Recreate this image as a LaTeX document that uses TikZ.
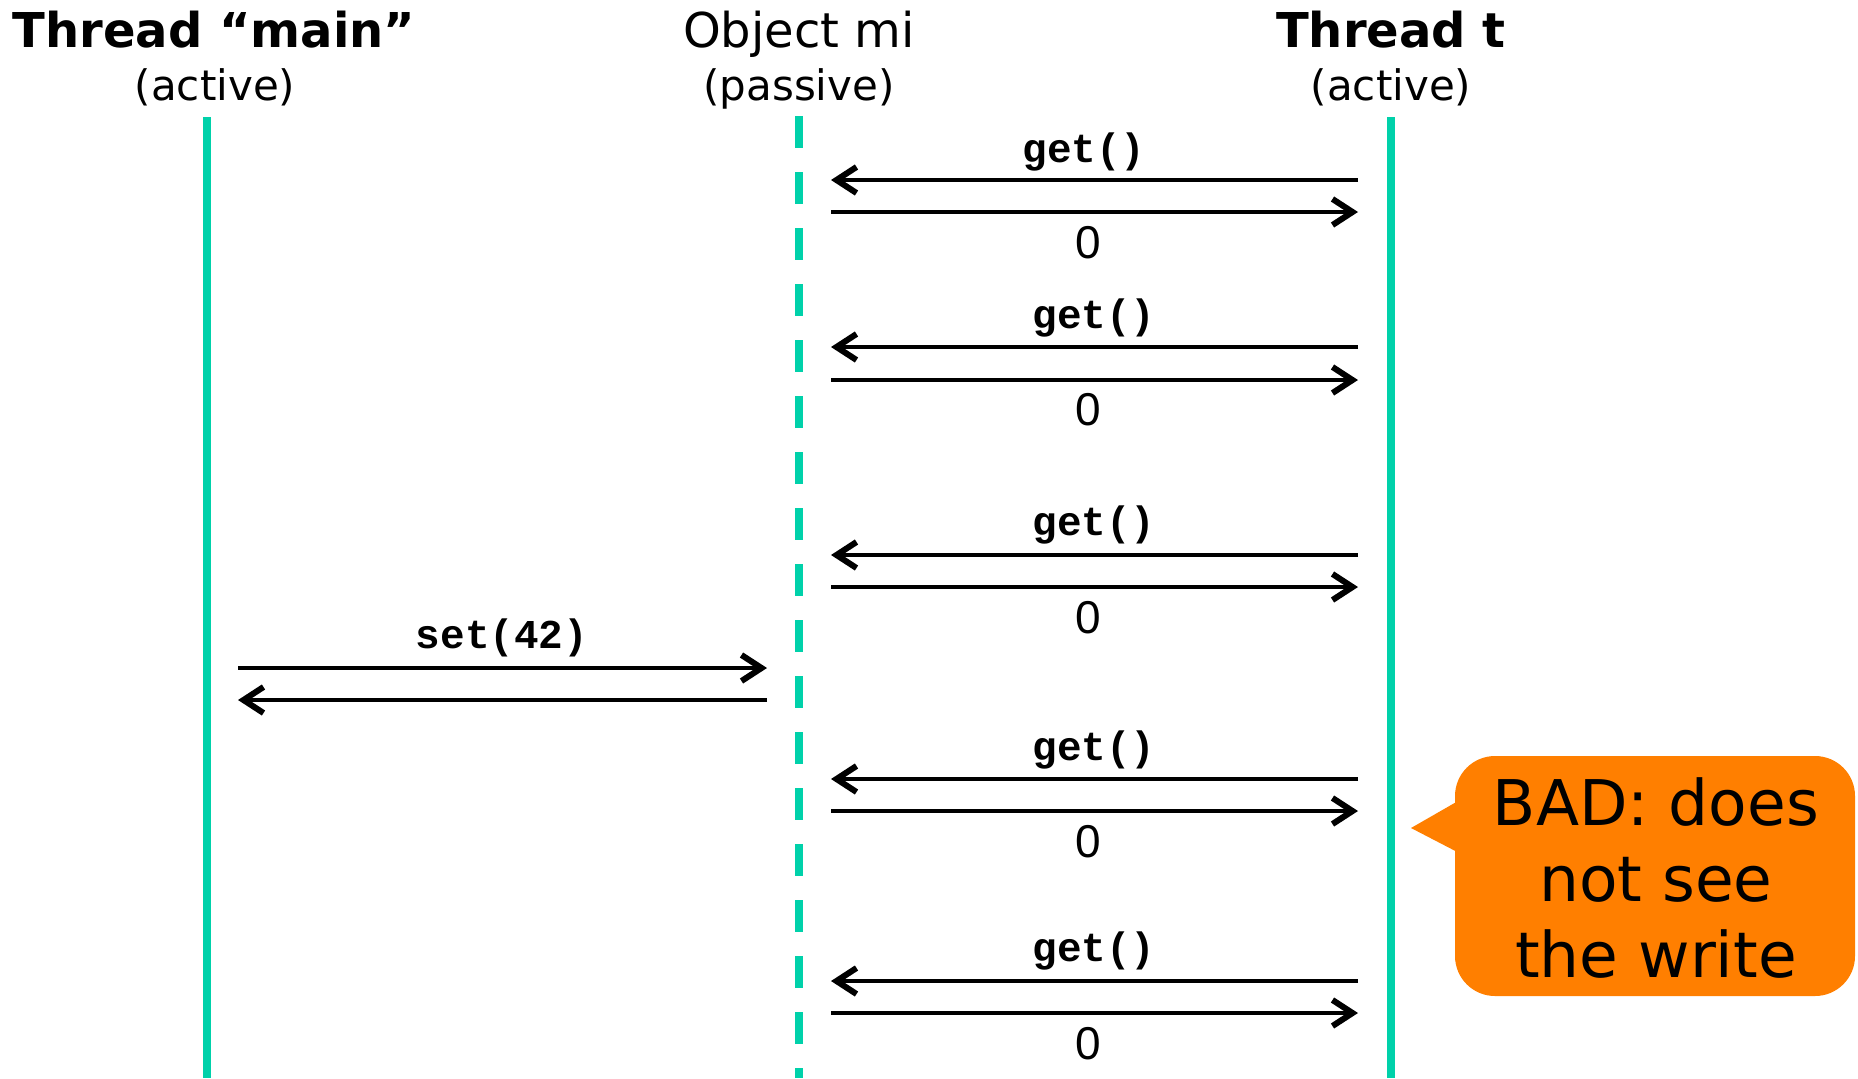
\documentclass[tikz,border=0pt]{standalone}
\usepackage{fontspec}
\setmainfont{DejaVu Sans}
\newfontfamily\monofont{Liberation Mono}
\newfontfamily\arialfont{Liberation Sans}
\usetikzlibrary{arrows.meta}
\definecolor{life}{RGB}{0,209,170}
\definecolor{badorange}{RGB}{255,127,0}
\begin{document}
\begin{tikzpicture}[x=0.5pt,y=-0.5pt,
  lifeline/.style={line width=4pt, draw=life},
  msg/.style={line width=2.4pt, -{Straight Barb[length=10pt,width=13pt,line width=3pt]}},
  head/.style={font=\fontsize{24}{28}\selectfont\bfseries, anchor=base, inner sep=0pt},
  headr/.style={font=\fontsize{24}{28}\selectfont, anchor=base, inner sep=0pt},
  sub/.style={font=\fontsize{21}{25}\selectfont, anchor=base, inner sep=0pt},
  call/.style={font=\fontsize{20.5}{24}\selectfont\monofont\bfseries, inner sep=0pt},
  ret/.style={font=\fontsize{23}{27}\selectfont\arialfont, inner sep=0pt},
  badtext/.style={font=\fontsize{31.5}{38}\selectfont, align=center, inner sep=0pt},
  bubble/.style={fill=badorange}]
\useasboundingbox (0,0) rectangle (1858,1078);
% headings
\node[head] (hmain) at (214,47) {Thread “main”};
\node[sub] (smain) at (215,100) {(active)};
\node[headr] (hobj) at (799,47) {Object mi};
\node[sub] (sobj) at (799,100) {(passive)};
\node[head] (ht) at (1391,47) {Thread t};
\node[sub] (st) at (1391,100) {(active)};
% lifelines
\coordinate (mainTop) at (207,117); \coordinate (mainBot) at (207,1078);
\coordinate (objTop) at (799,116); \coordinate (objBot) at (799,1078);
\coordinate (tTop) at (1391,117); \coordinate (tBot) at (1391,1078);
\draw[lifeline] (mainTop) -- (mainBot);
\draw[lifeline, dash pattern=on 16pt off 12pt] (objTop) -- (objBot);
\draw[lifeline] (tTop) -- (tBot);
% get() calls
\foreach \i/\lx/\ly/\ya/\yb/\zy in {1/1084/152/180/212/243, 2/1094/318/347/380/410, 3/1094/525/555/587/618, 4/1094/750/779/811/842, 5/1094/951/981/1013/1044} {
  \coordinate (oL\i) at (831,\ya); \coordinate (tL\i) at (1358,\ya);
  \coordinate (oR\i) at (831,\yb); \coordinate (tR\i) at (1358,\yb);
  \draw[msg] (tL\i) -- (oL\i);
  \draw[msg] (oR\i) -- (tR\i);
  \node[call] (get\i) at (\lx,\ly) {get()};
  \node[ret] (ret\i) at (1088,\zy) {0};
}
% set(42)
\coordinate (mS1) at (238,668); \coordinate (oS1) at (767,668);
\coordinate (mS2) at (238,700); \coordinate (oS2) at (767,700);
\draw[msg] (mS1) -- (oS1);
\draw[msg] (oS2) -- (mS2);
\node[call] (set) at (502,638) {set(42)};
% bubble
\fill[bubble, rounded corners=20pt] (1455,756) rectangle (1855,996);
\fill[bubble] (1411,828) -- (1465,797) -- (1465,856) -- cycle;
\node[badtext] (bad) at (1656,878) {BAD: does\\not see\\the write};
\end{tikzpicture}
\end{document}
